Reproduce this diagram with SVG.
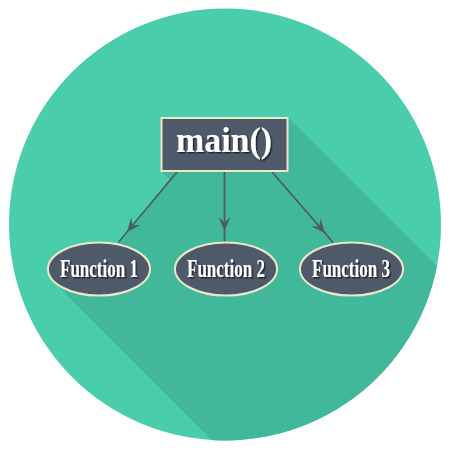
<svg xmlns="http://www.w3.org/2000/svg" width="450" height="450" viewBox="0 0 450 450">
  <style>
    .node { fill: #4e5969; stroke: #ebe8c9; stroke-width: 2; }
    .lbl { fill: #ffffff; font-family: "Liberation Serif", "Times New Roman", serif; text-anchor: middle; filter: url(#ts); font-weight: bold; }
    .main { font-size: 36px; }
    .fn { font-size: 26px; }
    .edge { stroke: #4e5969; stroke-width: 1.8; fill: none; marker-mid: url(#arr); }
  </style>
  <defs>
    <clipPath id="circ"><circle cx="225" cy="224.5" r="216"/></clipPath>
    <filter id="ts" x="-20%" y="-30%" width="140%" height="160%">
      <feDropShadow dx="1.5" dy="1.5" stdDeviation="0.6" flood-color="#1a1f26" flood-opacity="0.9"/>
    </filter>
    <marker id="arr" markerUnits="userSpaceOnUse" markerWidth="18" markerHeight="16" refX="0" refY="0" viewBox="-16 -8 18 16" orient="auto">
      <path d="M0,0 L-14,-6 L-8.5,0 L-14,6 Z" fill="#4e5969"/>
    </marker>
  </defs>

  <g id="background">
    <circle cx="225" cy="224.5" r="216" fill="#49cdab"/>
    <polygon clip-path="url(#circ)" fill="#41b899" points="288,117 161,117 161,171 170,180 120,244 99,269 53.4,281.5 553,781 788,617"/>
  </g>

  <g id="connectors">
    <path class="edge" d="M177,172 L127,232 L118.5,242.5"/>
    <path class="edge" d="M224.5,172 L224.5,231 L224.5,242.5"/>
    <path class="edge" d="M272,172 L325,233 L333,242.5"/>
  </g>

  <g id="main">
    <rect class="node" x="161.5" y="118" width="126" height="53"/>
    <text class="lbl main" x="224" y="152" textLength="96" lengthAdjust="spacingAndGlyphs">main()</text>
  </g>

  <g id="function1">
    <ellipse class="node" cx="99" cy="269" rx="51" ry="26.5"/>
    <text class="lbl fn" x="99" y="277" textLength="78" lengthAdjust="spacingAndGlyphs">Function 1</text>
  </g>

  <g id="function2">
    <ellipse class="node" cx="226" cy="269" rx="51" ry="26.5"/>
    <text class="lbl fn" x="226" y="277" textLength="78" lengthAdjust="spacingAndGlyphs">Function 2</text>
  </g>

  <g id="function3">
    <ellipse class="node" cx="351.5" cy="269" rx="51.5" ry="26.5"/>
    <text class="lbl fn" x="351" y="277" textLength="78" lengthAdjust="spacingAndGlyphs">Function 3</text>
  </g>
</svg>
